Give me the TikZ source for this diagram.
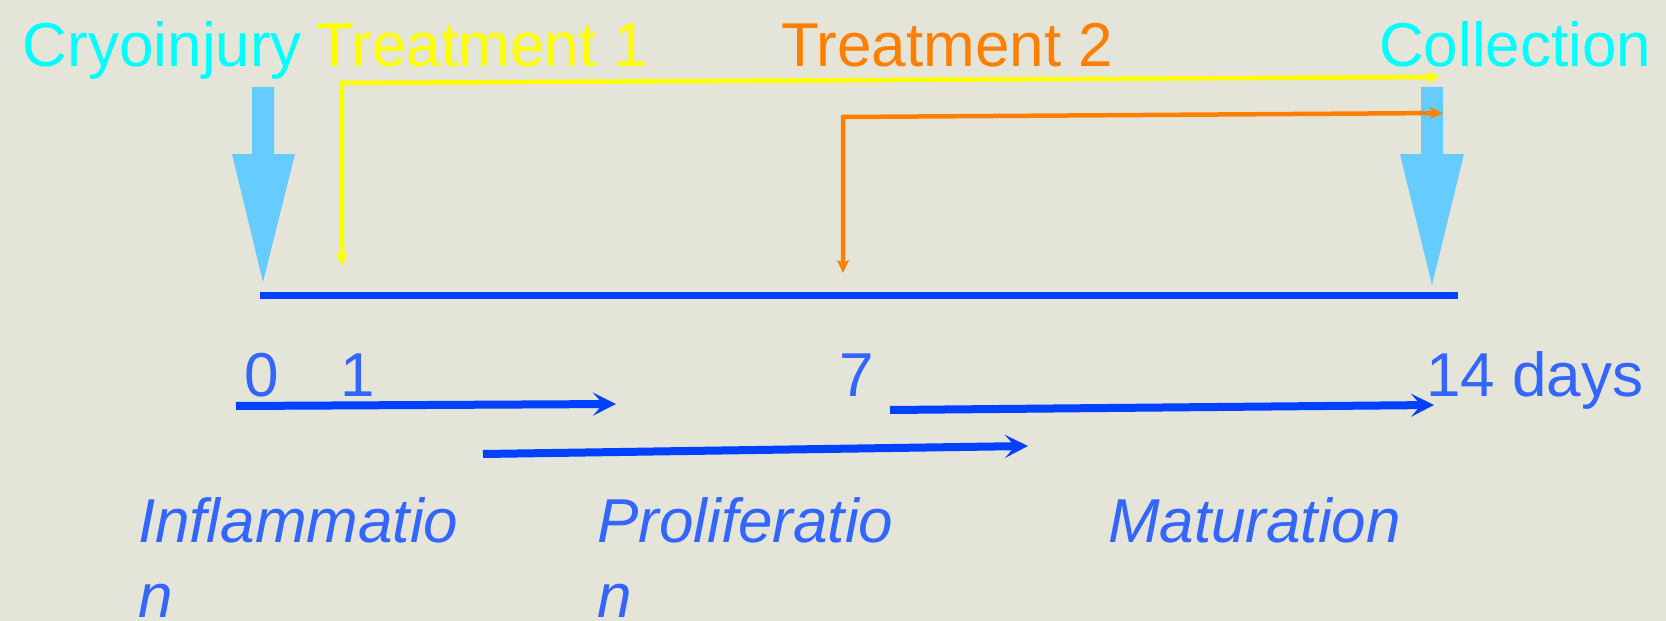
\documentclass[tikz,border=0pt]{standalone}
\usepackage{fontspec}
\setmainfont{Liberation Sans}
\usetikzlibrary{arrows.meta}
\definecolor{paper}{RGB}{228,228,217}
\definecolor{cryocyan}{RGB}{0,255,255}
\definecolor{treatyellow}{RGB}{255,255,0}
\definecolor{treatorange}{RGB}{255,128,0}
\definecolor{fatblue}{RGB}{102,204,255}
\definecolor{lineblue}{RGB}{0,64,255}
\definecolor{textblue}{RGB}{51,102,255}
\tikzset{
	toplabel/.style={
		anchor=base west,
		inner sep=0,
		outer sep=0,
		font=\fontsize{62}{67}\selectfont,
	},
	daylabel/.style={
		toplabel,
		text=textblue,
	},
	phaselabel/.style={
		anchor=north west,
		inner sep=0,
		outer sep=0,
		align=left,
		text=textblue,
		font=\fontsize{62}{75}\selectfont\itshape,
	},
	timeline/.style={
		line width=7pt,
		draw=lineblue,
	},
	phase/.style={
		line width=8pt,
		draw=lineblue,
		-{Stealth[length=23pt,width=23pt,inset=10pt]},
	},
	treat/.style={
		line width=4.5pt,
		{Stealth[length=13pt,width=12pt,inset=3pt]}-{Stealth[length=13pt,width=12pt,inset=3pt]},
	},
	bigarrow/.style={
		fill=fatblue,
	}
}
\begin{document}
\begin{tikzpicture}[x=1pt,y=-1pt]
								
								\fill[paper] (0,0) rectangle (1666,621);
								\useasboundingbox (0,0) rectangle (1666,621);
								
								% event labels
								\node[toplabel,text=cryocyan] (cryo) at (23,66) {Cryoinjury};
								\node[toplabel,text=treatyellow] (treat1) at (316,66) {Treatment 1};
								\node[toplabel,text=treatorange] (treat2) at (781,66) {Treatment 2};
								\node[toplabel,text=cryocyan] (coll) at (1379,66) {Collection};
								
								% fat arrows
								\fill[bigarrow] (252,87) -- (274,87) -- (274,154) -- (295,154) -- (263,282) -- (232,154) -- (252,154) -- cycle;
								\fill[bigarrow] (1421,87) -- (1443,87) -- (1443,154) -- (1464,154) -- (1432,285) -- (1400,154) -- (1421,154) -- cycle;
								
								% treatments
								\coordinate (tr1day) at (342,266);
								\coordinate (tr1top) at (342,83);
								\coordinate (tr1end) at (1440,77);
								\coordinate (tr2day) at (843,273);
								\coordinate (tr2top) at (843,117);
								\coordinate (tr2end) at (1443,113);
								\draw[treat,treatyellow] (tr1day) -- (tr1top) -- (tr1end);
								\draw[treat,treatorange] (tr2day) -- (tr2top) -- (tr2end);
								
								% time line
								\coordinate (t0) at (260,295);
								\coordinate (t14) at (1458,295);
								\draw[timeline] (t0) -- (t14);
								
								\node[daylabel] (d0) at (244,396) {0};
								\node[daylabel] (d1) at (340,396) {1};
								\node[daylabel] (d7) at (839,396) {7};
								\node[daylabel] (d14) at (1426,396) {14 days};
								
								% phases
								\coordinate (infs) at (236,406);
								\coordinate (infe) at (616,404);
								\coordinate (pros) at (483,454);
								\coordinate (proe) at (1028,446);
								\coordinate (mats) at (890,410);
								\coordinate (mate) at (1434,405);
								\draw[phase] (infs) -- (infe);
								\draw[phase] (pros) -- (proe);
								\draw[phase] (mats) -- (mate);
								
								\node[phaselabel] (infl) at (138,498) {Inflammatio\\n};
								\node[phaselabel] (prol) at (597,498) {Proliferatio\\n};
								\node[phaselabel] (matu) at (1108,498) {Maturation};
								
							\end{tikzpicture}
\end{document}
